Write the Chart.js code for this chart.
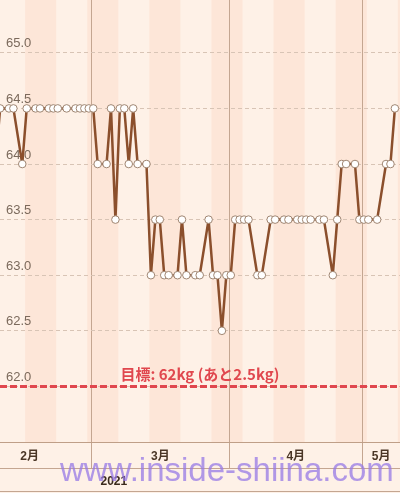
<!DOCTYPE html>
<html>
<head>
<meta charset="utf-8">
<script src="https://cdn.jsdelivr.net/npm/chart.js@4.4.1/dist/chart.umd.min.js"></script>
<style>
html,body{margin:0;padding:0;background:#fef1e7;}
#wrap{position:relative;width:400px;height:493px;overflow:hidden;background:#fef1e7;}
#c{position:absolute;left:0;top:0;width:400px;height:491px;}
#rule{position:absolute;left:0;top:491px;width:400px;height:1px;background:#c4a691;}
#wm{position:absolute;left:60px;top:453px;font:33px/33px "Liberation Sans",Arial,sans-serif;color:rgba(150,120,230,0.75);white-space:nowrap;pointer-events:none;}
</style>
</head>
<body>
<div id="wrap">
  <canvas id="c" width="400" height="491"></canvas>
  <div id="rule"></div>
  <div id="wm">www.inside-shiina.com</div>
</div>
<script>
// ---- data ----
const dates = ['2021-02-07','2021-02-08','2021-02-10','2021-02-11','2021-02-13','2021-02-14','2021-02-16','2021-02-17','2021-02-19','2021-02-20','2021-02-21','2021-02-23','2021-02-25','2021-02-26','2021-02-27','2021-02-28',
'2021-03-01','2021-03-02','2021-03-04','2021-03-05','2021-03-06','2021-03-07','2021-03-08','2021-03-09','2021-03-10','2021-03-11','2021-03-13','2021-03-14','2021-03-15','2021-03-16','2021-03-17','2021-03-18','2021-03-20','2021-03-21','2021-03-22','2021-03-24','2021-03-25','2021-03-27','2021-03-28','2021-03-29','2021-03-30','2021-03-31',
'2021-04-01','2021-04-02','2021-04-03','2021-04-04','2021-04-05','2021-04-07','2021-04-08','2021-04-10','2021-04-11','2021-04-13','2021-04-14','2021-04-16','2021-04-17','2021-04-18','2021-04-19','2021-04-21','2021-04-22','2021-04-24','2021-04-25','2021-04-26','2021-04-27','2021-04-29','2021-04-30',
'2021-05-01','2021-05-02','2021-05-04','2021-05-06','2021-05-07','2021-05-08'];
const weights = [64.0,64.5,64.5,64.5,64.0,64.5,64.5,64.5,64.5,64.5,64.5,64.5,64.5,64.5,64.5,64.5,
64.5,64.0,64.0,64.5,63.5,64.5,64.5,64.0,64.5,64.0,64.0,63.0,63.5,63.5,63.0,63.0,63.0,63.5,63.0,63.0,63.0,63.5,63.0,63.0,62.5,63.0,
63.0,63.5,63.5,63.5,63.5,63.0,63.0,63.5,63.5,63.5,63.5,63.5,63.5,63.5,63.5,63.5,63.5,63.0,63.5,64.0,64.0,64.0,63.5,
63.5,63.5,63.5,64.0,64.0,64.5];
const goalWeight = 62;
const goalLabel = '目標: 62kg (あと2.5kg)';
const monthLabels = ['2月','3月','4月','5月'];
const monthStarts = ['2021-02-01','2021-03-01','2021-04-01','2021-05-01','2021-06-01'];
const yearLabel = '2021';
const yTickValues = [62.0,62.5,63.0,63.5,64.0,64.5,65.0];

// ---- view / style settings ----
const DAY = 86400000;
const ORIGIN = Date.UTC(2021,2,1);
const toDay = s => (Date.parse(s + 'T00:00:00Z') - ORIGIN) / DAY;
const measureOffset = 0.35;      // time of day of the weigh-in
const xMin = -20.67, xMax = 69.5; // visible window (days from Mar 1)
const yMin = 61.5, yMax = 65.475;
const yearLabelDay = 5;
const firstShadedWeek = toDay('2021-01-31'); // Sunday-based weeks, every other week shaded
const LIGHT = '#fef1e7', DARK = '#fde6d8';
const FONT = '"Liberation Sans", "Noto Sans CJK JP", sans-serif';
const CJK = '"Noto Sans CJK JP", sans-serif';

const starts = monthStarts.map(toDay);
const boundaries = starts.filter(d => d > xMin && d < xMax);
const monthCenters = monthLabels.map((m, i) => (starts[i] + Math.min(starts[i+1], xMax)) / 2);
const labelMap = new Map(monthCenters.map((c, i) => [c, monthLabels[i]]));
const xTickValues = [...boundaries, ...monthCenters].sort((a, b) => a - b);
const isBoundary = v => boundaries.includes(v);

const bgPlugin = {
  id: 'bg',
  beforeDraw(chart) {
    const {ctx, chartArea: a, scales: {x}} = chart;
    ctx.save();
    ctx.fillStyle = LIGHT;
    ctx.fillRect(0, 0, chart.width, chart.height);
    ctx.beginPath();
    ctx.rect(a.left, a.top, a.right - a.left, a.bottom - a.top);
    ctx.clip();
    ctx.fillStyle = DARK;
    for (let w = firstShadedWeek; w < xMax; w += 14) {
      const x0 = x.getPixelForValue(w), x1 = x.getPixelForValue(w + 7);
      ctx.fillRect(x0, a.top, x1 - x0, a.bottom - a.top);
    }
    ctx.restore();
  }
};

const goalTextPlugin = {
  id: 'goalText',
  afterDatasetsDraw(chart) {
    const {ctx, chartArea: a, scales: {y}} = chart;
    ctx.save();
    ctx.font = 'bold 15px ' + CJK;
    ctx.textAlign = 'center';
    ctx.textBaseline = 'middle';
    ctx.fillStyle = '#e0474e';
    ctx.fillText(goalLabel, (a.left + a.right) / 2, y.getPixelForValue(goalWeight) - 12);
    ctx.restore();
  }
};

new Chart(document.getElementById('c'), {
  type: 'line',
  data: {
    datasets: [
      {
        label: '体重',
        data: dates.map((d, i) => ({x: toDay(d) + measureOffset, y: weights[i]})),
        borderColor: '#8b4f2c',
        borderWidth: 2.5,
        borderJoinStyle: 'round',
        borderCapStyle: 'round',
        pointRadius: 3.8,
        pointBackgroundColor: '#ffffff',
        pointBorderColor: '#a08672',
        pointBorderWidth: 1,
        tension: 0,
        xAxisID: 'x', yAxisID: 'y'
      },
      {
        label: '目標',
        data: [{x: xMin, y: goalWeight}, {x: xMax, y: goalWeight}],
        borderColor: '#e0474e',
        borderWidth: 3,
        borderDash: [7, 3],
        pointRadius: 0,
        xAxisID: 'x', yAxisID: 'y'
      }
    ]
  },
  options: {
    responsive: false,
    animation: false,
    events: [],
    layout: {padding: 0, autoPadding: false},
    plugins: {legend: {display: false}, tooltip: {enabled: false}, title: {display: false}},
    scales: {
      x: {
        type: 'linear', position: 'bottom', weight: 0, bounds: 'data',
        min: xMin, max: xMax,
        afterBuildTicks: s => { s.ticks = xTickValues.map(v => ({value: v})); },
        afterFit: s => { s.height = 26; s.paddingLeft = 0; s.paddingRight = 0; },
        ticks: {
          autoSkip: false, maxRotation: 0, minRotation: 0, padding: -19,
          color: '#4a3626', font: {size: 12, weight: 'bold', family: FONT},
          callback: v => labelMap.has(v) ? labelMap.get(v) : ''
        },
        grid: {
          color: ctx => (ctx.tick && isBoundary(ctx.tick.value)) ? '#c4a691' : 'rgba(0,0,0,0)',
          lineWidth: 1, tickLength: 26, drawTicks: true
        },
        border: {display: true, color: '#bf9f88', width: 1}
      },
      x2: {
        type: 'linear', position: 'bottom', weight: 1, bounds: 'data',
        min: xMin, max: xMax,
        afterBuildTicks: s => { s.ticks = [{value: yearLabelDay}]; },
        afterFit: s => { s.height = 23; s.paddingLeft = 0; s.paddingRight = 0; },
        ticks: {
          autoSkip: false, maxRotation: 0, minRotation: 0, padding: 6,
          color: '#3a2a1e', font: {size: 12, weight: 'bold', family: FONT},
          callback: () => yearLabel
        },
        grid: {display: false, drawTicks: false},
        border: {display: true, color: '#c4a691', width: 1}
      },
      y: {
        type: 'linear', position: 'left', bounds: 'data',
        min: yMin, max: yMax,
        afterBuildTicks: s => { s.ticks = yTickValues.map(v => ({value: v})); },
        afterFit: s => { s.width = 0; s.paddingTop = 0; s.paddingBottom = 0; },
        ticks: {
          mirror: true, padding: 6, labelOffset: -9,
          color: '#7b6a5c', font: {size: 13, family: FONT},
          callback: v => Number(v).toFixed(1)
        },
        grid: {color: '#d8c4b5', lineWidth: 1, drawTicks: false},
        border: {display: false, dash: [4, 3]}
      }
    }
  },
  plugins: [bgPlugin, goalTextPlugin]
});
</script>
</body>
</html>
